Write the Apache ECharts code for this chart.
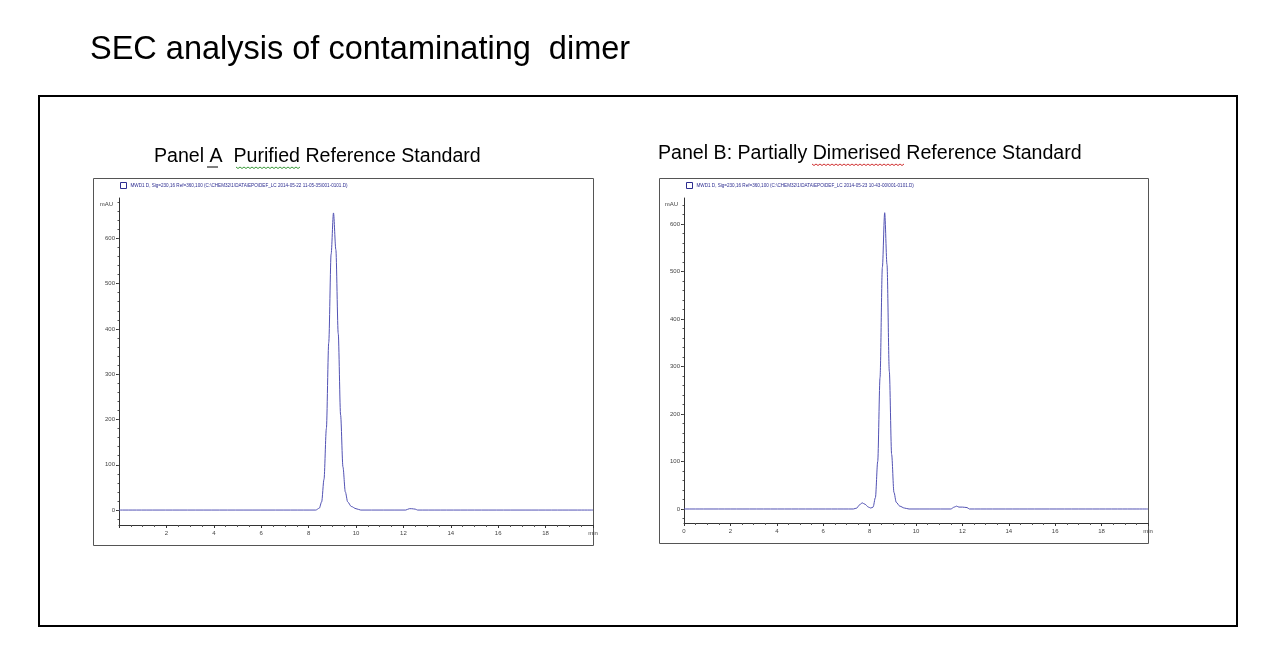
<!DOCTYPE html>
<html>
<head>
<meta charset="utf-8">
<title>SEC analysis of contaminating dimer</title>
<script src="https://cdn.jsdelivr.net/npm/echarts@6/dist/echarts.min.js"></script>
<style>
  html, body { margin: 0; padding: 0; background: #fff; }
  #main { width: 1270px; height: 671px; }
</style>
</head>
<body>
<div id="main"></div>
<script>
// retention time (min) and signal (mAU)
var panelATime = [0, 8.3, 8.45, 8.55, 8.65, 8.75, 8.85, 8.95, 9.05, 9.15, 9.25, 9.35, 9.45, 9.55, 9.65, 9.8, 10.0, 10.2, 12.1, 12.25, 12.35, 12.5, 12.6, 20];
var panelASignal = [0, 0, 4, 18, 68, 180, 370, 565, 656, 575, 390, 210, 95, 40, 18, 8, 3, 0, 0, 3, 3, 2, 0, 0];

var panelBTime = [0, 7.3, 7.45, 7.55, 7.68, 7.8, 7.95, 8.05, 8.15, 8.25, 8.35, 8.45, 8.55, 8.65, 8.75, 8.85, 8.95, 9.05, 9.15, 9.3, 9.5, 9.7, 11.5, 11.65, 11.75, 11.85, 12.0, 12.2, 12.3, 20];
var panelBSignal = [0, 0, 2, 8, 13, 10, 4, 2, 4, 24, 100, 277, 509, 624, 515, 290, 115, 35, 14, 6, 2, 0, 0, 4, 6, 4, 4, 3, 0, 0];

var yLabelValues = [0, 100, 200, 300, 400, 500, 600];
var yMinorValues = [-20, 0, 20, 40, 60, 80, 100, 120, 140, 160, 180, 200, 220, 240, 260, 280, 300, 320, 340, 360, 380, 400, 420, 440, 460, 480, 500, 520, 540, 560, 580, 600, 620, 640, 660, 680];

var legendA = 'MWD1 D, Sig=230,16 Ref=360,100 (C:\\CHEM32\\1\\DATA\\EPO\\DEF_LC 2014-05-22 11-05-35\\001-0101.D)';
var legendB = 'MWD1 D, Sig=230,16 Ref=360,100 (C:\\CHEM32\\1\\DATA\\EPO\\DEF_LC 2014-05-23 10-43-00\\001-0101.D)';

function pairs(xs, ys) {
    var out = [];
    for (var i = 0; i < xs.length; i++) out.push([xs[i], ys[i]]);
    return out;
}

// squiggly spell-check underline
function squiggle(x0, x1, y) {
    var pts = [];
    for (var x = x0, k = 0; x <= x1; x += 2, k++) pts.push([x, y + (k % 2 ? 1.5 : 0)]);
    return pts;
}

var tinyFont = '"Liberation Sans Narrow", "Liberation Sans", sans-serif';
var textFont = '"Liberation Sans", Arial, sans-serif';
var lineColor = '#5252b4';

function xAxisFor(gridIndex, showZero) {
    return {
        type: 'value', gridIndex: gridIndex, min: 0, max: 20, interval: 2,
        axisLine: { show: true, onZero: false, lineStyle: { color: '#333', width: 1 } },
        axisTick: { show: true, length: 3, lineStyle: { color: '#333' } },
        minorTick: { show: true, splitNumber: 4, length: 2, lineStyle: { color: '#555' } },
        splitLine: { show: false },
        axisLabel: {
            fontSize: 6, color: '#444', fontFamily: tinyFont, margin: 5,
            formatter: function (v) {
                if (v === 20) return 'min';
                if (v === 0) return showZero ? '0' : '';
                return String(v);
            }
        }
    };
}

function yAxisFor(gridIndex, min, max) {
    return {
        type: 'value', gridIndex: gridIndex, min: min, max: max,
        name: 'mAU', nameLocation: 'end', nameGap: -6,
        nameTextStyle: { fontSize: 6, color: '#444', fontFamily: tinyFont, align: 'right', verticalAlign: 'middle', padding: [0, 6, 0, 0] },
        axisLine: { show: true, onZero: false, lineStyle: { color: '#333', width: 1 } },
        axisTick: { show: true, length: 3, customValues: yLabelValues, lineStyle: { color: '#333' } },
        splitLine: { show: false },
        axisLabel: { fontSize: 6, color: '#444', fontFamily: tinyFont, margin: 4, customValues: yLabelValues }
    };
}

function yMinorFor(gridIndex, min, max) {
    return {
        type: 'value', gridIndex: gridIndex, min: min, max: max, position: 'left',
        axisLine: { show: false },
        axisTick: { show: true, length: 1.5, customValues: yMinorValues, lineStyle: { color: '#555' } },
        axisLabel: { show: false },
        splitLine: { show: false }
    };
}

var option = {
    backgroundColor: '#fff',
    animation: false,
    title: [
        { text: 'SEC analysis of contaminating  dimer', left: 90, top: 34, padding: 0,
          textStyle: { fontSize: 32.5, fontWeight: 'normal', color: '#000', fontFamily: textFont } },
        { text: 'Panel A  Purified Reference Standard', left: 154, top: 147, padding: 0,
          textStyle: { fontSize: 19.6, fontWeight: 'normal', color: '#000', fontFamily: textFont } },
        { text: 'Panel B: Partially Dimerised Reference Standard', left: 658, top: 144, padding: 0,
          textStyle: { fontSize: 19.6, fontWeight: 'normal', color: '#000', fontFamily: textFont } }
    ],
    legend: [
        { data: [legendA], left: 120, top: 182, padding: 0, icon: 'rect', itemWidth: 6, itemHeight: 6, itemGap: 4,
          itemStyle: { color: 'transparent', borderColor: '#2c2c90', borderWidth: 1 },
          textStyle: { fontSize: 4.6, color: '#2c2c90', fontFamily: tinyFont, padding: [0, 0, 0, -1] } },
        { data: [legendB], left: 686, top: 182, padding: 0, icon: 'rect', itemWidth: 6, itemHeight: 6, itemGap: 4,
          itemStyle: { color: 'transparent', borderColor: '#2c2c90', borderWidth: 1 },
          textStyle: { fontSize: 4.6, color: '#2c2c90', fontFamily: tinyFont, padding: [0, 0, 0, -1] } }
    ],
    grid: [
        { left: 119, right: 677, top: 198, bottom: 146 },
        { left: 684, right: 122, top: 198, bottom: 148 }
    ],
    xAxis: [xAxisFor(0, false), xAxisFor(1, true)],
    yAxis: [
        yAxisFor(0, -33, 689), yAxisFor(1, -29.5, 655),
        yMinorFor(0, -33, 689), yMinorFor(1, -29.5, 655)
    ],
    series: [
        { name: legendA, type: 'line', xAxisIndex: 0, yAxisIndex: 0, data: pairs(panelATime, panelASignal),
          showSymbol: false, smooth: 0.3, smoothMonotone: 'x', lineStyle: { color: lineColor, width: 1 }, itemStyle: { color: lineColor } },
        { name: legendB, type: 'line', xAxisIndex: 1, yAxisIndex: 1, data: pairs(panelBTime, panelBSignal),
          showSymbol: false, smooth: 0.3, smoothMonotone: 'x', lineStyle: { color: lineColor, width: 1 }, itemStyle: { color: lineColor } }
    ],
    graphic: [
        { type: 'rect', shape: { x: 39, y: 96, width: 1198, height: 530 }, style: { fill: 'none', stroke: '#000', lineWidth: 2 }, silent: true },
        { type: 'rect', shape: { x: 93.5, y: 178.5, width: 500, height: 367 }, style: { fill: 'none', stroke: '#555', lineWidth: 1 }, silent: true },
        { type: 'rect', shape: { x: 659.5, y: 178.5, width: 489, height: 365 }, style: { fill: 'none', stroke: '#555', lineWidth: 1 }, silent: true },
        { type: 'line', shape: { x1: 207, y1: 167, x2: 218, y2: 167 }, style: { stroke: '#000', lineWidth: 1 }, silent: true },
        { type: 'polyline', shape: { points: squiggle(236, 301, 167) }, style: { stroke: '#3a9a3a', lineWidth: 1, fill: 'none' }, silent: true },
        { type: 'polyline', shape: { points: squiggle(812, 904, 164) }, style: { stroke: '#d03030', lineWidth: 1, fill: 'none' }, silent: true }
    ]
};

var chart = echarts.init(document.getElementById('main'));
chart.setOption(option);
</script>
</body>
</html>
